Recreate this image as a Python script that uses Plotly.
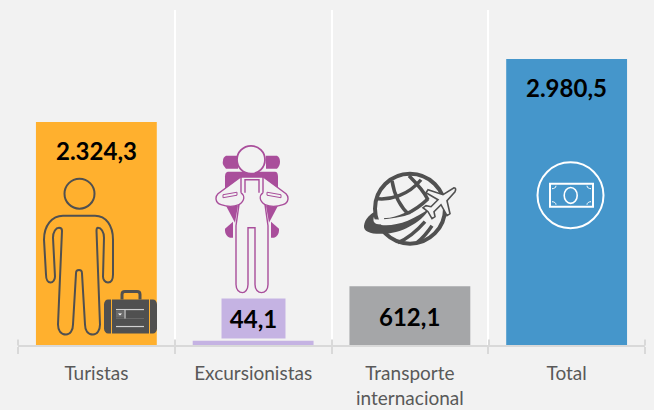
import re
import plotly.graph_objects as go

categories = ["Turistas", "Excursionistas", "Transporte<br>internacional", "Total"]
values = [2324.3, 44.1, 612.1, 2980.5]
value_labels = ["2.324,3", "44,1", "612,1", "2.980,5"]
bar_colors = ["#FFB02E", "#C5B3E3", "#A5A6A8", "#4596CB"]
label_shifts = [-29, 22, -30, -29]

W, H = 654, 410
L, R, T, B = 18, 645, 10, 345.5
BG = "#F2F2F2"
DARK = "#505050"
PURPLE = "#A94E9B"
WHITE = "#FFFFFF"


def fx(px):
    return (px - L) / (R - L)


def fy(py):
    return (B - py) / (B - T)


def conv(path):
    tokens = re.findall(r"[MLCQZ]|-?[\d.]+", path)
    out, isx = [], True
    for t in tokens:
        if t in "MLCQZ":
            out.append(t)
            isx = True
        else:
            out.append(f"{fx(float(t)) if isx else fy(float(t)):.5f}")
            isx = not isx
    return " ".join(out)


shapes = []


def path(d, line=None, width=0, fill=None):
    shapes.append(dict(type="path", xref="paper", yref="paper", path=conv(d),
                       line=dict(color=line or "rgba(0,0,0,0)", width=width),
                       fillcolor=fill or "rgba(0,0,0,0)", layer="above"))


def circ(cx, cy, rx, ry=None, line=None, width=0, fill=None):
    ry = ry or rx
    shapes.append(dict(type="circle", xref="paper", yref="paper",
                       x0=fx(cx - rx), x1=fx(cx + rx), y0=fy(cy + ry), y1=fy(cy - ry),
                       line=dict(color=line or "rgba(0,0,0,0)", width=width),
                       fillcolor=fill or "rgba(0,0,0,0)", layer="above"))


# axis tick stubs above the axis line
for px in (18, 175, 332, 489, 645):
    path(f"M {px},340 L {px},346", line="#D9D9D9", width=2)

# ---- traveller icon
circ(79.5, 194, 15, line=DARK, width=2)
path("M 63,216 L 95,216 C 106,216 113,226 113,240 L 113,275 C 113,280 111,283 108,283 "
     "C 105,283 103,280 103,277 L 104,238 C 104,232 101,228 98,228 C 97,228 96.5,229 96.5,231 "
     "L 100,325 C 100,331 97,335 93,335 C 88,335 85,331 85,325 L 82,274 C 82,271 81,270.5 79,270.5 "
     "C 77,270.5 76,271 76,274 L 73,325 C 73,331 70,335 66,335 C 61,335 58,331 58,325 "
     "L 62,231 C 62,229 61,228 59,228 C 56,228 53,232 53,238 L 55,277 C 55,280 53,283 50.5,283 "
     "C 48,283 46,280 46,275 L 44,240 C 44,226 52,216 63,216 Z", line=DARK, width=2)
# suitcase
path("M 122,300 L 122,295 C 122,293 123,292 125,292 L 137,292 C 139,292 140,293 140,295 L 140,300",
     line=DARK, width=3)
path("M 104,305 C 104,302 106,300 108,300 L 111,300 L 111,334 L 108,334 C 106,334 104,332 104,329 Z", fill=DARK)
path("M 112,300 L 149,300 L 149,334 L 112,334 Z", fill=DARK)
path("M 150,300 L 153,300 C 155,300 157,302 157,305 L 157,329 C 157,332 155,334 153,334 L 150,334 Z", fill=DARK)
path("M 116,310 L 144,310", line="#D0D0D0", width=1.2)
path("M 116,327 L 144,327", line="#D0D0D0", width=1.2)
path("M 116,319 L 144,319", line="#6A6A6A", width=1)
path("M 116,311 L 124,311 L 124,318 L 116,318 Z", fill="#6A6A6A")
path("M 118,314 L 122,314 L 120,316 Z", fill=WHITE)
path("M 125,310 L 125,319", line="#D0D0D0", width=1.2)

# ---- backpacker icon
path("M 226,156 L 238,156 L 238,169 L 226,169 C 224,166 222,165 223,161 C 223,159 224,157 226,156 Z", fill=PURPLE)
path("M 266,156 L 277,156 C 279,157 280,159 280,162 C 280,165 279,167 277,169 L 266,169 Z", fill=PURPLE)
path("M 229,172 L 275,172 C 277,172 278,174 278,177 L 278,192 L 225,192 L 225,177 C 225,174 226,172 229,172 Z", fill=PURPLE)
path("M 226,206 L 238,206 L 235,223 Z", fill=PURPLE)
path("M 278,206 L 266,206 L 269,223 Z", fill=PURPLE)
path("M 225,229 L 233,222 L 233,238 L 230,238 C 227,237 225,234 225,231 Z", fill=PURPLE)
path("M 279,229 L 271,222 L 271,238 L 274,238 C 277,237 279,234 279,231 Z", fill=PURPLE)
body = ("M 241,177 L 263,177 L 286,194 C 289,197 289,203 283,205 C 277,207 270,207 265,205 "
        "L 268,226 L 268,285 C 268,290 265,293 261.5,293 C 258,293 255,290 255,285 "
        "L 255,228 L 248,228 L 248,285 C 248,290 245,293 242.5,293 C 239,293 236,290 236,285 "
        "L 236,226 L 239,205 C 234,207 227,207 221,205 C 215,203 215,197 218,194 Z")
path(body, line=PURPLE, width=1.4, fill=BG)
path("M 241,193 L 241,177 L 263,177 L 263,193", line=PURPLE, width=1.4)
path("M 245,193 L 245,180 L 259,180 L 259,193", line=PURPLE, width=1.4)
path("M 223,195 L 237,192.5 L 237,195.5 L 223,198 Z", line=PURPLE, width=1, fill=BG)
path("M 281,195 L 267,192.5 L 267,195.5 L 281,198 Z", line=PURPLE, width=1, fill=BG)
path("M 241,193 C 245,196 245,201 239,205", line=PURPLE, width=1.3)
path("M 263,193 C 259,196 259,201 265,205", line=PURPLE, width=1.3)
circ(251, 160, 14, line=PURPLE, width=1.8, fill=BG)

# ---- globe and plane icon
circ(410, 209, 35, line=DARK, width=4)
path("M 392,181 C 394,194 400,207 410,216", line=DARK, width=3.5)
path("M 409,176 C 416,183 423,190 428,200", line=DARK, width=3.5)
path("M 378,199 C 390,200 408,196 421,180", line=DARK, width=3.5)
path("M 384,220 C 394,221 414,213 428,199", line=DARK, width=3.5)
path("M 398,243 C 410,238 418,230 425,222", line=DARK, width=3.5)
path("M 417,243 C 423,238 428,232 432,226", line=DARK, width=3.5)
path("M 366,221 C 380,224 410,222 432,206", line=BG, width=5)
path("M 364,226 C 365,219 370,214 377,211 C 373,217 372,222 376,224 C 390,229 412,222 430,208 "
     "C 424,220 405,233 385,234 C 372,235 363,232 364,226 Z", fill=DARK)
path("M 454,188 C 456,188 456,190 455,192 L 447,201 L 450,214 L 447,216 L 441,205 L 434,212 L 435,217 "
     "L 432,219 L 428,212 L 423,208 L 426,206 L 431,207 L 438,200 L 426,193 L 428,190 L 443,195 Z",
     line=DARK, width=1.6, fill=BG)

# ---- money icon
circ(570.5, 195.5, 33, line=WHITE, width=2)
path("M 550,184 L 593,184 L 593,207 L 550,207 Z", line=WHITE, width=2)
circ(570.7, 195.7, 6.5, 8, line=WHITE, width=1.6)
path("M 556,186 C 556,188 554,189 552,189", line=WHITE, width=1)
path("M 587,186 C 587,188 589,189 591,189", line=WHITE, width=1)
path("M 556,205 C 556,203 554,202 552,202", line=WHITE, width=1)
path("M 587,205 C 587,203 589,202 591,202", line=WHITE, width=1)

fig = go.Figure(go.Bar(x=categories, y=values, width=0.771, marker=dict(color=bar_colors, line=dict(width=0)),
                       hoverinfo="skip"))

annotations = []
for i, (cat, val, txt, sh) in enumerate(zip(categories, values, value_labels, label_shifts)):
    a = dict(x=cat, y=val, text=f"<b>{txt}</b>", showarrow=False, yshift=sh,
             font=dict(family="Lato, 'Open Sans', sans-serif", size=24, color="#000000"))
    if txt == "44,1":
        a.update(bgcolor="#C5B3E3", width=61, height=37, borderpad=1)
    annotations.append(a)

fig.update_layout(
    width=W, height=H, autosize=False,
    margin=dict(l=L, r=W - R, t=T, b=H - B, pad=0),
    paper_bgcolor=BG, plot_bgcolor=BG, showlegend=False,
    shapes=shapes, annotations=annotations,
    xaxis=dict(type="category", tickson="boundaries", range=[-0.5, 3.5], automargin=False,
               showgrid=True, gridcolor=WHITE, gridwidth=2,
               showline=True, linecolor="#D9D9D9", linewidth=2,
               ticks="outside", ticklen=7, tickwidth=2, tickcolor="#D9D9D9",
               ticklabelstandoff=10,
               tickfont=dict(family="Lato, 'Open Sans', sans-serif", size=19, color="#595959")),
    yaxis=dict(range=[0, 3490], visible=False, showgrid=False, zeroline=False, automargin=False),
)

fig.write_html("out.html", post_script="document.body.style.margin='0';document.body.style.background='#F2F2F2';",
               config={"displayModeBar": False})
